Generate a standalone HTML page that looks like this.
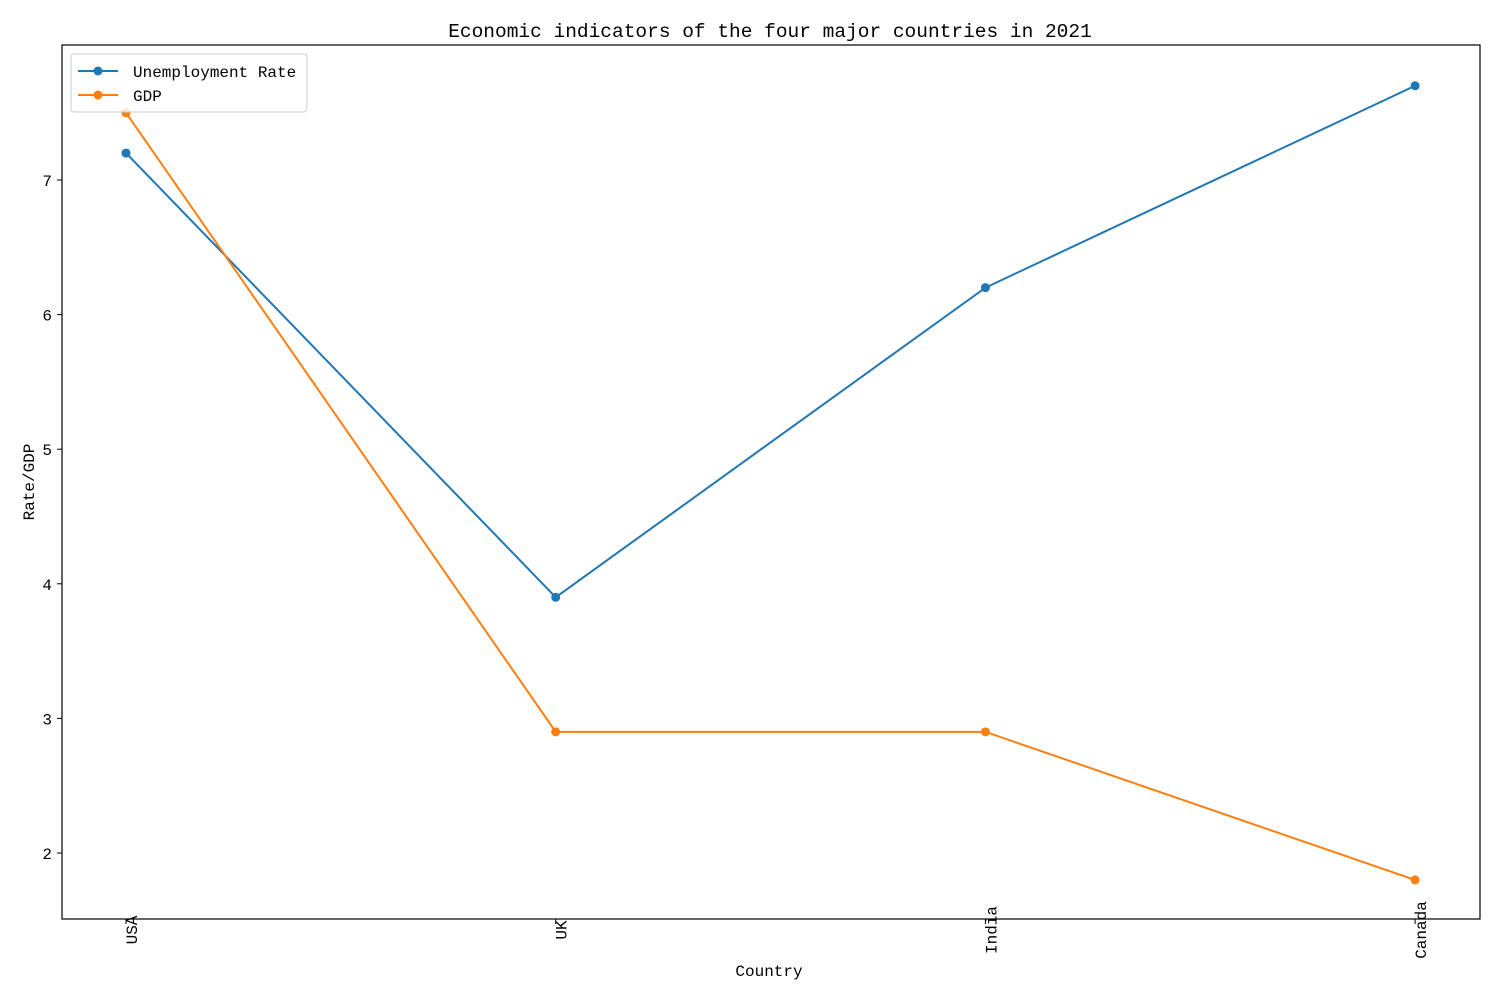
<!DOCTYPE html>
<html><head><meta charset="utf-8"><style>
body{margin:0;background:#fff}
svg text{font-family:"Liberation Mono","WenQuanYi Zen Hei",monospace;fill:#000}
</style></head><body>
<svg id="chart" width="1500" height="1000" xmlns="http://www.w3.org/2000/svg">
<rect width="1500" height="1000" fill="#fff"/>
<text x="770" y="37" font-size="19.5" text-anchor="middle">Economic indicators of the four major countries in 2021</text>
<g id="grid"></g>
<g id="series"></g>
<rect x="62" y="45" width="1418" height="874" fill="none" stroke="#000" stroke-width="1.2"/>
<text x="769" y="976" font-size="16" text-anchor="middle">Country</text>
<text transform="translate(34,482) rotate(-90)" font-size="16" text-anchor="middle">Rate/GDP</text>
<g>
<rect x="71" y="54" width="236" height="58" rx="3" fill="#fff" fill-opacity="0.8" stroke="#ccc"/>
<g>
<line x1="78" x2="118" y1="71" y2="71" stroke="#1f77b4" stroke-width="2"/><circle cx="98" cy="71" r="4.5" fill="#1f77b4"/>
<text x="133" y="77" font-size="16">Unemployment Rate</text></g>
<g>
<line x1="78" x2="118" y1="95" y2="95" stroke="#ff7f0e" stroke-width="2"/><circle cx="98" cy="95" r="4.5" fill="#ff7f0e"/>
<text x="133" y="101" font-size="16">GDP</text></g>
</g>
</svg>
<script>
const categories=["USA","UK","India","Canada"];
const unemployment=[7.2,3.9,6.2,7.7];
const gdp=[7.5,2.9,2.9,1.8];
const yTicks=[2,3,4,5,6,7];
const NS="http://www.w3.org/2000/svg";
const xS=i=>126+i*429.7;
const yS=v=>180+(7-v)*134.6;
const grid=document.getElementById('grid'),ser=document.getElementById('series');
function mk(t,a,p){const e=document.createElementNS(NS,t);for(const k in a)e.setAttribute(k,a[k]);p.appendChild(e);return e;}
yTicks.forEach(v=>{
 const l=mk('line',{x1:57,x2:62,y1:yS(v),y2:yS(v),stroke:'#000'},grid);
 
 
 const t=mk('text',{x:52,y:yS(v)+6,'font-size':16,'text-anchor':'end'},grid);t.textContent=v;
 
 
});
categories.forEach((c,i)=>{
 const l=mk('line',{x1:xS(i),x2:xS(i),y1:919,y2:924,stroke:'#000'},grid);
 
 
 const t=mk('text',{transform:`translate(${xS(i)+11},930) rotate(-90)`,'font-size':16,'text-anchor':'middle'},grid);t.textContent=c;
 
 
});
function draw(vals,color,name){
 const p=mk('polyline',{points:vals.map((v,i)=>xS(i)+','+yS(v)).join(' '),fill:'none',stroke:color,'stroke-width':2},ser);
 
 
 vals.forEach((v,i)=>{const c=mk('circle',{cx:xS(i),cy:yS(v),r:4.5,fill:color},ser);
 
 });
}
draw(unemployment,'#1f77b4','unemployment');
draw(gdp,'#ff7f0e','gdp');
</script>
</body></html>
